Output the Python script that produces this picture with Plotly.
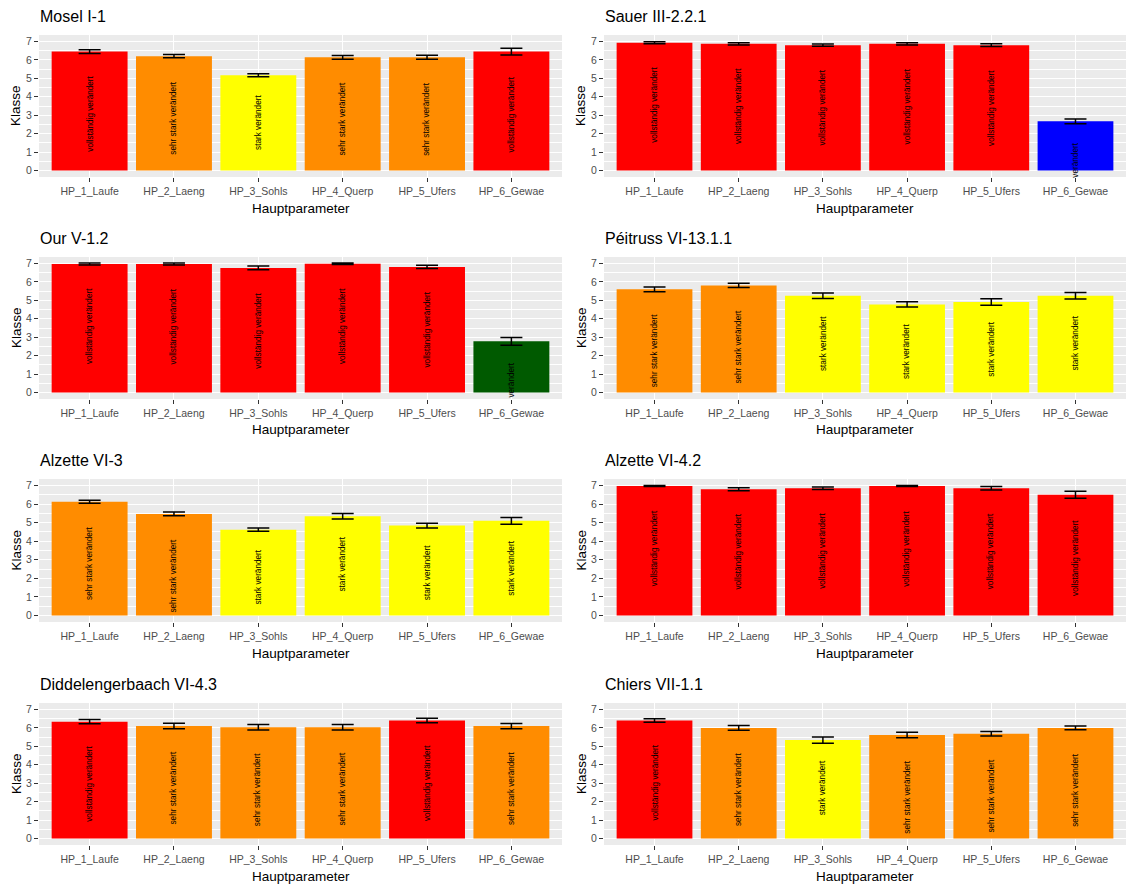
import plotly.graph_objects as go

# Hauptparameter (x categories)
categories = ["HP_1_Laufe", "HP_2_Laeng", "HP_3_Sohls", "HP_4_Querp", "HP_5_Ufers", "HP_6_Gewae"]

panel_titles = [
    "Mosel I-1", "Sauer III-2.2.1",
    "Our V-1.2", "Péitruss VI-13.1.1",
    "Alzette VI-3", "Alzette VI-4.2",
    "Diddelengerbaach VI-4.3", "Chiers VII-1.1",
]

# mean class, standard error and class code per Hauptparameter
mosel_mean = [6.45, 6.20, 5.17, 6.14, 6.14, 6.45]
mosel_err = [0.10, 0.09, 0.08, 0.10, 0.11, 0.18]
mosel_cls = [7, 6, 5, 6, 6, 7]

sauer_mean = [6.93, 6.87, 6.80, 6.87, 6.80, 2.67]
sauer_err = [0.05, 0.06, 0.06, 0.06, 0.08, 0.13]
sauer_cls = [7, 7, 7, 7, 7, 2]

our_mean = [6.97, 6.97, 6.76, 6.98, 6.81, 2.78]
our_err = [0.05, 0.05, 0.10, 0.04, 0.09, 0.21]
our_cls = [7, 7, 7, 7, 7, 3]

peitruss_mean = [5.60, 5.81, 5.25, 4.78, 4.91, 5.25]
peitruss_err = [0.13, 0.12, 0.15, 0.14, 0.17, 0.18]
peitruss_cls = [6, 6, 5, 5, 5, 5]

alzette3_mean = [6.13, 5.47, 4.62, 5.34, 4.84, 5.10]
alzette3_err = [0.08, 0.10, 0.09, 0.15, 0.13, 0.18]
alzette3_cls = [6, 6, 5, 5, 5, 5]

alzette42_mean = [6.97, 6.80, 6.85, 6.97, 6.85, 6.50]
alzette42_err = [0.03, 0.08, 0.07, 0.03, 0.09, 0.19]
alzette42_cls = [7, 7, 7, 7, 7, 7]

diddeleng_mean = [6.34, 6.10, 6.03, 6.03, 6.40, 6.10]
diddeleng_err = [0.12, 0.15, 0.15, 0.15, 0.12, 0.14]
diddeleng_cls = [7, 6, 6, 6, 7, 6]

chiers_mean = [6.40, 6.00, 5.34, 5.61, 5.68, 6.00]
chiers_err = [0.10, 0.13, 0.17, 0.15, 0.12, 0.10]
chiers_cls = [7, 6, 5, 6, 6, 6]

panels = [
    (mosel_mean, mosel_err, mosel_cls),
    (sauer_mean, sauer_err, sauer_cls),
    (our_mean, our_err, our_cls),
    (peitruss_mean, peitruss_err, peitruss_cls),
    (alzette3_mean, alzette3_err, alzette3_cls),
    (alzette42_mean, alzette42_err, alzette42_cls),
    (diddeleng_mean, diddeleng_err, diddeleng_cls),
    (chiers_mean, chiers_err, chiers_cls),
]

class_labels = {
    7: "vollständig verändert",
    6: "sehr stark verändert",
    5: "stark verändert",
    3: "verändert",
    2: "verändert",
}
class_colors = {
    7: "#FF0000",
    6: "#FF8C00",
    5: "#FFFF00",
    3: "#005A00",
    2: "#0000FF",
}
# distance (in class units) between the bar top and the end of its rotated label
label_gap = {7: 1.22, 6: 1.22, 5: 0.97, 3: 1.05, 2: 1.05}

W, H = 1126, 885
col_px = [(39, 562), (604, 1126)]
row_px = [(35, 177), (257, 399), (479, 622), (703, 845)]

TICK_COLOR = "#4D4D4D"
FONT = "Liberation Sans, Arial, sans-serif"

fig = go.Figure()
layout = dict(
    width=W, height=H,
    margin=dict(l=0, r=0, t=0, b=0),
    paper_bgcolor="white",
    plot_bgcolor="#EBEBEB",
    font=dict(family=FONT),
    showlegend=False,
    barmode="group",
    annotations=[],
)

for i, (mean, err, cls) in enumerate(panels):
    r, c = divmod(i, 2)
    x0, x1 = col_px[c]
    yt, yb = row_px[r]
    n = "" if i == 0 else str(i + 1)
    xref, yref = "x" + n, "y" + n

    fig.add_trace(go.Bar(
        x=categories, y=mean, width=0.9,
        marker=dict(color=[class_colors[k] for k in cls], line=dict(width=0)),
        error_y=dict(type="data", array=err, color="black", thickness=1.5, width=11),
        xaxis=xref, yaxis=yref, showlegend=False,
    ))

    layout["xaxis" + n] = dict(
        domain=[x0 / W, x1 / W], anchor=yref, type="category",
        categoryorder="array", categoryarray=categories,
        range=[-0.6, 5.6], fixedrange=True,
        showgrid=True, gridcolor="white", gridwidth=1.1,
        ticks="outside", ticklen=4, tickwidth=1, tickcolor="#333333",
        tickfont=dict(size=10.5, color=TICK_COLOR, family=FONT),
        showline=False, zeroline=False,
    )
    layout["yaxis" + n] = dict(
        domain=[1 - yb / H, 1 - yt / H], anchor=xref,
        range=[-0.35, 7.35], fixedrange=True,
        tickmode="linear", tick0=0, dtick=1,
        showgrid=True, gridcolor="white", gridwidth=1.1,
        minor=dict(tick0=0, dtick=0.5, showgrid=True, gridcolor="white", gridwidth=0.5),
        ticks="outside", ticklen=4, tickwidth=1, tickcolor="#333333",
        tickfont=dict(size=10.5, color=TICK_COLOR, family=FONT),
        showline=False, zeroline=False,
    )

    # rotated class labels inside the bars
    for cat, m, k in zip(categories, mean, cls):
        layout["annotations"].append(dict(
            x=cat, y=m - label_gap[k], xref=xref, yref=yref,
            text=class_labels[k], textangle=-90,
            xanchor="center", yanchor="top", showarrow=False,
            font=dict(size=8.2, color="black", family=FONT),
        ))

    # panel title
    layout["annotations"].append(dict(
        x=(x0 - 1) / W, y=1 - (yt - 19) / H, xref="paper", yref="paper",
        text=panel_titles[i], xanchor="left", yanchor="middle", showarrow=False,
        font=dict(size=16, color="black", family=FONT),
    ))
    # axis titles
    layout["annotations"].append(dict(
        x=(x0 + x1) / 2 / W, y=1 - (yb + 31) / H, xref="paper", yref="paper",
        text="Hauptparameter", xanchor="center", yanchor="middle", showarrow=False,
        font=dict(size=13.5, color="black", family=FONT),
    ))
    layout["annotations"].append(dict(
        x=(x0 - 23) / W, y=1 - (yt + yb) / 2 / H, xref="paper", yref="paper",
        text="Klasse", textangle=-90, xanchor="center", yanchor="middle", showarrow=False,
        font=dict(size=13.5, color="black", family=FONT),
    ))

fig.update_layout(**layout)
fig.write_html("out.html")
